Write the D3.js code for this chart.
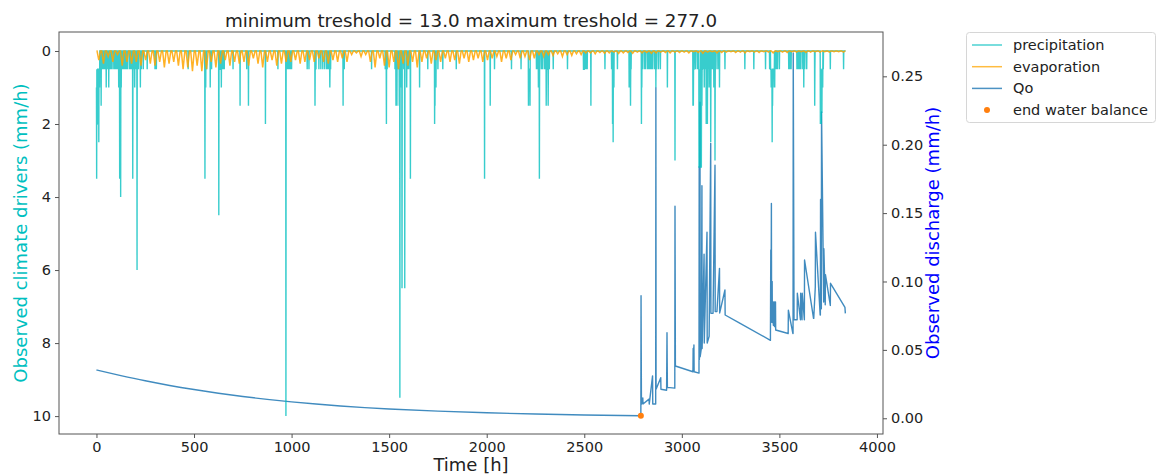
<!DOCTYPE html>
<html>
<head>
<meta charset="utf-8">
<script src="https://cdn.jsdelivr.net/npm/d3@7"></script>
<style>
  html, body { margin: 0; padding: 0; background: #fff; }
  svg text { font-family: "DejaVu Sans", sans-serif; }
</style>
</head>
<body>
<svg id="chart" width="1157" height="475"></svg>
<script>
// ---------------- data ----------------
const titleText = "minimum treshold = 13.0 maximum treshold = 277.0";
const nHours = 3840;

// main precipitation events: hour, mm/h (zero elsewhere)
const precipT = [0,1,3,4,6,9,12,13,16,20,24,28,35,50,63,75,89,100,114,119,121,124,127,140,150,160,183,186,190,196,200,208,225,260,307,470,556,560,565,583,627,632,640,645,700,736,770,779,866,930,971,975,985,990,1000,1080,1089,1120,1125,1150,1160,1170,1190,1196,1200,1264,1270,1410,1480,1486,1490,1530,1535,1540,1552,1555,1562,1566,1575,1580,1590,1609,1656,1698,1733,1735,1740,1750,1775,1844,1989,2018,2040,2127,2176,2214,2218,2222,2255,2265,2270,2280,2295,2305,2315,2321,2341,2414,2500,2505,2510,2534,2606,2640,2645,2648,2652,2670,2730,2737,2740,2793,2795,2830,2835,2840,2850,2867,2880,2926,2965,3057,3059,3062,3088,3090,3093,3095,3100,3103,3115,3125,3131,3135,3140,3148,3155,3164,3170,3175,3193,3221,3323,3369,3429,3455,3460,3463,3465,3468,3472,3476,3480,3485,3548,3560,3595,3610,3620,3625,3640,3681,3710,3712,3715,3718,3722,3725,3761,3829];
const precipV = [1.0,3.5,2.0,2.0,0.5,2.0,2.5,0.5,1.0,0.5,1.5,0.5,0.5,1.0,1.0,0.5,0.5,0.5,1.0,3.5,0.5,4.0,1.0,0.5,0.5,0.5,0.5,3.5,0.5,1.0,0.5,6.0,1.0,0.5,0.5,0.5,3.5,1.0,0.5,1.0,4.5,0.5,1.0,0.5,0.5,1.5,0.5,1.5,2.0,0.5,10.0,0.5,0.5,0.5,0.5,0.5,0.5,1.5,0.5,0.5,0.5,0.5,0.5,1.0,0.5,1.5,0.5,0.5,0.5,2.0,0.5,0.5,1.5,1.5,1.5,9.5,1.0,6.5,0.5,6.5,1.0,3.5,1.0,0.5,2.0,1.5,1.0,0.5,0.5,0.5,3.5,1.5,0.5,0.5,0.5,1.5,0.5,1.5,0.5,1.0,3.5,0.5,0.5,1.5,1.5,0.5,0.5,0.5,0.5,0.5,0.5,1.5,0.5,0.5,2.0,2.5,1.0,0.5,1.0,1.5,0.5,2.0,1.0,0.5,0.5,0.5,0.5,1.0,0.5,1.0,3.0,1.5,1.5,0.5,3.2,2.0,3.2,1.0,3.2,1.5,1.0,2.0,2.0,0.5,1.0,2.5,0.5,1.0,3.0,0.5,1.0,0.5,0.5,0.5,0.5,0.5,1.0,2.5,1.5,1.0,0.5,1.0,0.5,0.5,0.5,0.5,0.5,0.5,0.5,1.0,0.5,1.5,2.0,1.0,2.0,1.7,1.0,0.5,0.5,0.5];
// light rain hours (blocks near the top of the axis)
const precipSmallT = [2,5,7,8,10,11,14,15,30,40,45,55,70,80,95,105,110,125,130,135,145,155,170,175,178,185,187,215,230,240,300,555,557,559,590,628,629,633,650,655,972,980,995,1121,1122,1140,1180,1185,1195,1197,1485,1545,1548,1553,1554,1556,1557,1565,1567,1595,1600,1608,1734,2215,2216,2217,2219,2220,2221,2260,2271,2285,2300,2306,2307,2308,2310,2316,2496,2497,2498,2499,2515,2646,2647,2649,2650,2736,2738,2800,2810,2815,2825,2845,2860,2870,2890,3058,3060,3061,3070,3080,3089,3091,3092,3094,3096,3101,3102,3104,3105,3110,3120,3126,3130,3132,3145,3149,3160,3165,3171,3185,3450,3456,3457,3458,3459,3461,3462,3464,3466,3467,3469,3470,3471,3473,3474,3478,3490,3500,3550,3555,3590,3600,3605,3630,3682,3711,3713,3714,3716,3717,3719,3720,3721];
const precipSmallV = [0.5,1.0,0.5,1.0,0.5,0.5,1.0,0.5,0.5,0.5,0.5,0.5,0.5,0.5,0.5,0.5,0.5,0.5,0.5,0.5,0.5,0.5,0.5,0.5,0.5,0.5,0.5,0.5,0.5,0.5,0.5,0.5,0.5,0.5,0.5,0.5,0.5,0.5,0.5,0.5,0.5,0.5,0.5,0.5,0.5,0.5,0.5,0.5,0.5,0.5,0.5,0.5,0.5,0.5,1.0,0.5,0.5,0.5,0.5,0.5,0.5,0.5,1.0,0.5,0.5,0.5,0.5,0.5,0.5,0.5,0.5,0.5,0.5,0.5,0.5,0.5,0.5,0.5,0.5,0.5,0.5,0.5,0.5,1.0,0.5,0.5,0.5,0.5,0.5,0.5,0.5,0.5,0.5,0.5,0.5,0.5,0.5,1.0,0.5,0.5,0.5,0.5,1.0,0.5,1.0,0.5,0.5,1.0,0.5,0.5,0.5,0.5,0.5,1.0,0.5,0.5,0.5,1.0,0.5,0.5,1.0,0.5,0.5,0.5,0.5,1.0,0.5,0.5,1.0,0.5,0.5,0.5,0.5,0.5,0.5,0.5,0.5,0.5,0.5,0.5,0.5,0.5,0.5,0.5,0.5,0.5,0.5,1.0,0.5,1.0,0.5,1.0,0.5,0.5,0.5];

// evaporation: daily maximum (mm/h), one value per day
const evapDailyMax = [0.25,0.35,0.15,0.3,0.1,0.4,0.3,
 0.35,0.3,0.4,0.25,0.35,0.4,0.3,0.45,0.35,0.3,0.4,
 0.5,0.45,0.55,0.4,0.55,0.5,
 0.3,0.45,0.35,0.25,0.4,0.3,0.35,
 0.3,0.4,0.2,0.35,0.45,0.3,0.25,0.4,0.35,0.3,
 0.3,0.25,0.35,0.3,0.25,0.3,
 0.2,0.3,0.35,0.25,0.3,0.2,0.3,
 0.1,0.05,0.15,0.1,0.3,0.45,0.2,
 0.4,0.45,0.3,0.5,0.35,0.4,0.3,0.45,
 0.3,0.2,0.35,0.25,0.3,0.2,0.3,0.25,0.35,0.2,0.3,0.25,0.2,0.3,0.25,
 0.2,0.15,0.3,0.2,0.25,0.1,0.2,0.15,0.25,0.2,
 0.1,0.15,0.1,0.12,0.08,0.15,0.1,0.12,0.08,0.1,0.05,
 0.05,0.08,0.04,0.06,0.05,0.03,0.07,0.05,0.04,0.06,0.03,0.05,0.04,0.06,0.05,0.03,0.04,0.05,0.03,0.04,
 0.03,0.05,0.02,0.04,0.06,0.03,0.02,0.05,0.04,0.03,0.02,0.04,0.03,0.05,0.02,0.03,0.04,0.02,0.03,0.05,0.02,0.03,0.04,0.02,0.03,0.02,0.04,0.03,0.02,0.03,0.02,0.03,0.02,0.02,0.03];
const evapShapeHours = [3, 12, 21]; // rise, peak, back to zero within each day

// observed discharge Qo: recession before the end of the water balance (hour, mm/h)
const qoRecT = [0,125,250,375,500,625,750,875,1000,1125,1250,1375,1500,1750,2000,2250,2500,2790];
const qoRecV = [0.0353,0.0312,0.0274,0.0240,0.0210,0.0183,0.0159,0.0138,0.0120,0.0104,0.0090,0.0078,0.0068,0.0052,0.0040,0.0031,0.0024,0.0018];
// observed discharge Qo after the end of the water balance (hour, mm/h)
const qoT = [2790,
 2791,2792,2793,2800,2801,2832,2833,2850,2851,2866,2867,2868,2892,2893,2922,2924,2925,2926,2964,2965,2966,2967,
 3057,3058,3059,3062,3063,3088,3089,3090,3093,3094,3100,3103,3104,3114,3115,3129,3130,3140,3148,3149,3160,3170,3171,3180,3193,3194,3221,3222,3292,
 3454,3456,3457,3459,3460,3463,3464,3468,3469,3474,3475,3480,3481,3545,3546,3569,3570,3571,3575,3591,3592,3608,3609,3616,3617,3628,3629,
 3675,3676,3684,3685,3709,3710,3711,3715,3716,3727,3728,3735,3736,3761,3762,3836,3838];
const qoV = [0.0018,
 0.0896,0.048,0.0104,0.0148,0.0104,0.0140,0.0104,0.031,0.0104,0.0104,0.2417,0.0212,0.0297,0.0212,0.0205,0.0626,0.041,0.0226,0.0220,0.155,0.0975,0.0382,
 0.0340,0.051,0.0345,0.0536,0.034,0.033,0.184,0.043,0.231,0.045,0.051,0.17,0.051,0.12,0.055,0.136,0.055,0.06,0.201,0.0767,0.0767,0.185,0.078,0.078,0.1096,0.077,0.0938,0.0755,0.070,
 0.057,0.123,0.07,0.157,0.075,0.10,0.07,0.085,0.068,0.085,0.067,0.085,0.0645,0.062,0.079,0.062,0.062,0.267,0.072,0.072,0.0914,0.072,0.0914,0.072,0.0914,0.072,0.1157,0.073,
 0.073,0.096,0.136,0.0755,0.0755,0.16,0.08,0.224,0.085,0.124,0.083,0.105,0.0825,0.0987,0.081,0.0767,0.096];

// end of water balance marker
const endBalanceT = [2790];
const endBalanceV = [0.0018];

// axes ticks
const xTicks = [0,500,1000,1500,2000,2500,3000,3500,4000];
const leftTicks = [0,2,4,6,8,10];
const rightTicks = [0,0.05,0.10,0.15,0.20,0.25];
const legendLabels = ["precipitation","evaporation","Qo","end water balance"];

// ---------------- drawing ----------------
const svg = d3.select("#chart");
const plot = {left: 59, right: 883, top: 32, bottom: 434};

const x = d3.scaleLinear().domain([-192, 4031]).range([plot.left, plot.right]);
const yL = d3.scaleLinear().domain([-0.52, 10.49]).range([plot.top, plot.bottom]);
const yR = d3.scaleLinear().domain([-0.0115, 0.2824]).range([plot.bottom, plot.top]);

const colPrecip = "#00bfbf", colEvap = "#ffa500", colQo = "#1f77b4", colDot = "#ff7f0e";

// hourly precipitation series
const precipHourly = new Array(nHours).fill(0);
precipSmallT.forEach((t, i) => { precipHourly[t] = precipSmallV[i]; });
precipT.forEach((t, i) => { precipHourly[t] = precipV[i]; });
const precipPts = precipHourly.map((v, t) => [t, v]);

// evaporation keypoints
const evapPts = [[0, 0]];
evapDailyMax.forEach((m, d) => {
  evapPts.push([d*24 + evapShapeHours[0], 0]);
  evapPts.push([d*24 + evapShapeHours[1], m]);
  evapPts.push([d*24 + evapShapeHours[2], 0]);
});
evapPts.push([nHours - 1, 0]);

const qoRecPts = qoRecT.map((t, i) => [t, qoRecV[i]]);
const qoPts = qoT.map((t, i) => [t, qoV[i]]);

const clipId = "plotclip";
svg.append("clipPath").attr("id", clipId).append("rect")
  .attr("x", plot.left).attr("y", plot.top)
  .attr("width", plot.right - plot.left).attr("height", plot.bottom - plot.top);

const g = svg.append("g").attr("clip-path", `url(#${clipId})`);

// Qo on right axis
g.append("path").datum(qoRecPts)
  .attr("fill", "none").attr("stroke", colQo).attr("stroke-opacity", 0.85)
  .attr("stroke-width", 1.4)
  .attr("d", d3.line().curve(d3.curveMonotoneX).x(d => x(d[0])).y(d => yR(d[1])));
g.append("path").datum(qoPts)
  .attr("fill", "none").attr("stroke", colQo).attr("stroke-opacity", 0.85)
  .attr("stroke-width", 1.4).attr("stroke-linejoin", "round")
  .attr("d", d3.line().x(d => x(d[0])).y(d => yR(d[1])));

// precipitation
g.append("path").datum(precipPts)
  .attr("fill", "none").attr("stroke", colPrecip).attr("stroke-opacity", 0.78)
  .attr("stroke-width", 1.4)
  .attr("d", d3.line().x(d => x(d[0])).y(d => yL(d[1])));

// evaporation
g.append("path").datum(evapPts)
  .attr("fill", "none").attr("stroke", colEvap).attr("stroke-opacity", 0.85)
  .attr("stroke-width", 1.5)
  .attr("d", d3.line().x(d => x(d[0])).y(d => yL(d[1])));

// end water balance marker
g.selectAll("circle.endbal").data(endBalanceT.map((t, i) => [t, endBalanceV[i]]))
  .enter().append("circle").attr("class", "endbal")
  .attr("cx", d => x(d[0])).attr("cy", d => yR(d[1])).attr("r", 3)
  .attr("fill", colDot);

// frame
svg.append("rect").attr("x", plot.left).attr("y", plot.top)
  .attr("width", plot.right - plot.left).attr("height", plot.bottom - plot.top)
  .attr("fill", "none").attr("stroke", "#555").attr("stroke-width", 1);

// axes
const tickFont = "14.5px";
const xAxis = svg.append("g").attr("transform", `translate(0,${plot.bottom})`)
  .call(d3.axisBottom(x).tickValues(xTicks).tickFormat(d3.format("d")).tickSize(4).tickPadding(4));
const lAxis = svg.append("g").attr("transform", `translate(${plot.left},0)`)
  .call(d3.axisLeft(yL).tickValues(leftTicks).tickFormat(d3.format("d")).tickSize(4).tickPadding(4));
const rAxis = svg.append("g").attr("transform", `translate(${plot.right},0)`)
  .call(d3.axisRight(yR).tickValues(rightTicks).tickFormat(d3.format(".2f")).tickSize(4).tickPadding(4));
[xAxis, lAxis, rAxis].forEach(a => {
  a.select(".domain").remove();
  a.selectAll(".tick line").attr("stroke", "#555");
  a.selectAll(".tick text").attr("fill", "#222").style("font-size", tickFont)
    .style("font-family", '"DejaVu Sans", sans-serif');
});

// titles and labels
svg.append("text").attr("x", (plot.left + plot.right) / 2).attr("y", 27)
  .attr("text-anchor", "middle").attr("fill", "#222").style("font-size", "18.3px")
  .text(titleText);
svg.append("text").attr("x", (plot.left + plot.right) / 2).attr("y", 471)
  .attr("text-anchor", "middle").attr("fill", "#222").style("font-size", "18px")
  .text("Time [h]");
svg.append("text").attr("transform", `translate(27,${(plot.top + plot.bottom) / 2}) rotate(-90)`)
  .attr("text-anchor", "middle").attr("fill", colPrecip).style("font-size", "18px")
  .text("Observed climate drivers (mm/h)");
svg.append("text").attr("transform", `translate(939,${(plot.top + plot.bottom) / 2}) rotate(-90)`)
  .attr("text-anchor", "middle").attr("fill", "#0000ff").style("font-size", "18px")
  .text("Observed discharge (mm/h)");

// legend
const lg = svg.append("g");
lg.append("rect").attr("x", 966.5).attr("y", 32.5).attr("width", 189).attr("height", 90)
  .attr("rx", 3).attr("fill", "#fff").attr("fill-opacity", 0.8)
  .attr("stroke", "#d6d6d6").attr("stroke-width", 1);
const legendStyles = [
  {type: "line", color: colPrecip, op: 0.7},
  {type: "line", color: colEvap, op: 0.75},
  {type: "line", color: colQo, op: 0.8},
  {type: "dot", color: colDot, op: 1}
];
legendLabels.forEach((lab, i) => {
  const yy = 45 + i * 21.7;
  const s = legendStyles[i];
  if (s.type === "line") {
    lg.append("line").attr("x1", 972).attr("x2", 1002).attr("y1", yy).attr("y2", yy)
      .attr("stroke", s.color).attr("stroke-opacity", s.op).attr("stroke-width", 1.5);
  } else {
    lg.append("circle").attr("cx", 987).attr("cy", yy).attr("r", 3).attr("fill", s.color);
  }
  lg.append("text").attr("x", 1013).attr("y", yy + 5).attr("fill", "#222")
    .style("font-size", "14.5px").text(lab);
});
</script>
</body>
</html>
